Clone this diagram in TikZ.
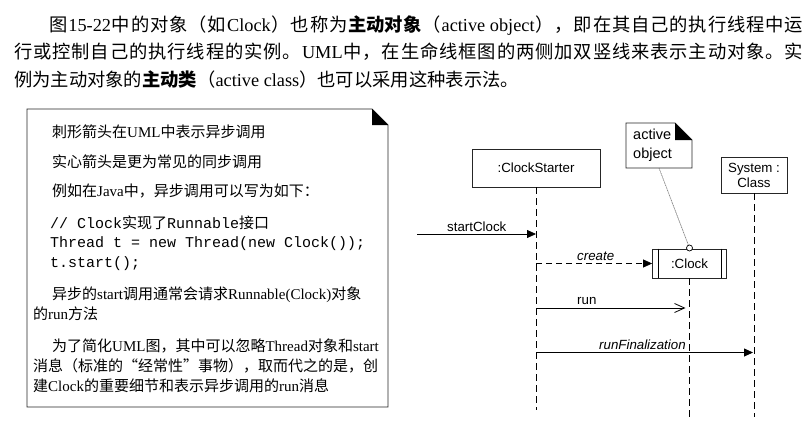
\documentclass[tikz,border=0pt]{standalone}
\usepackage{fontspec}
\usetikzlibrary{arrows.meta}
\setmainfont{Noto Sans CJK SC}
\newfontfamily\en{Liberation Serif}
\newfontfamily\arialf{Liberation Sans}
\newfontfamily\monof{Liberation Mono}

% spread the items of a line evenly over a given width
\makeatletter
\newcommand\spreadline[2]{\makebox[#1][s]{\@tfor\spitem:=#2\do{{\spitem}\hfil}\unskip}}
\makeatother

\tikzset{
  htext/.style={anchor=base west, inner sep=0pt, font=\fontsize{18.3}{20}\selectfont},
  btext/.style={anchor=base west, inner sep=0pt, font=\fontsize{15}{17}\selectfont},
  noteline/.style={draw=black!85, line width=0.8pt, line join=miter},
  objbox/.style={draw=black!85, line width=0.8pt, inner sep=0pt, align=center,
    font=\arialf\fontsize{13.3}{15}\selectfont},
  lifeline/.style={draw=black, line width=0.8pt, dash pattern=on 7pt off 4pt},
  syncmsg/.style={draw=black, line width=0.8pt, -{Triangle[length=9pt,width=8pt]}},
  createmsg/.style={draw=black, line width=0.8pt, dash pattern=on 6pt off 4pt,
    -{Triangle[length=9pt,width=8pt]}},
  asyncmsg/.style={draw=black, line width=0.8pt, -{Straight Barb[length=10pt,width=9pt]}},
  lbl/.style={inner sep=0pt, font=\arialf\fontsize{13.3}{15}\selectfont},
  ilbl/.style={inner sep=0pt, font=\arialf\itshape\fontsize{13.3}{15}\selectfont},
  notetext/.style={anchor=base west, inner sep=0pt, font=\arialf\fontsize{14.5}{16}\selectfont},
}

\begin{document}
\begin{tikzpicture}[x=1pt, y=-1pt]
\useasboundingbox[fill=white] (0,0) rectangle (811,428);

% ---- paragraph above the figure ----
\node[htext] (h1) at (49,31.5) {\spreadline{754pt}{图{\en 15-22}中的对象（如{\en Clock}）也称为{\bfseries 主动对象}（{\en active object}），即在其自己的执行线程中运}};
\node[htext] (h2) at (14,59) {\spreadline{789pt}{行或控制自己的执行线程的实例。{\en UML}中，在生命线框图的两侧加双竖线来表示主动对象。实}};
\node[htext] (h3) at (14,86.5) {例为主动对象的{\bfseries 主动类}（{\en active class}）也可以采用这种表示法。};

% ---- explanatory note on the left ----
\draw[noteline] (27,109) -- (372,109) -- (388,125) -- (388,407) -- (27,407) -- cycle;
\fill[black] (372,109) -- (372,125) -- (388,125) -- cycle;

\node[btext] (n1) at (52,137) {刺形箭头在{\en UML}中表示异步调用};
\node[btext] (n2) at (52,167) {实心箭头是更为常见的同步调用};
\node[btext] (n3) at (52,196) {例如在{\en Java}中，异步调用可以写为如下：};
\node[btext] (c1) at (50,228) {{\monof // Clock}实现了{\monof Runnable}接口};
\node[btext] (c2) at (50,247) {\monof Thread t = new Thread(new Clock());};
\node[btext] (c3) at (50,267) {\monof t.start();};
\node[btext] (n4) at (52,299) {异步的{\en start}调用通常会请求{\en Runnable(Clock)}对象};
\node[btext] (n5) at (33,319) {的{\en run}方法};
\node[btext] (n6) at (52,351) {为了简化{\en UML}图，其中可以忽略{\en Thread}对象和{\en start}};
\node[btext] (n7) at (33,371) {消息（标准的“经常性”事物），取而代之的是，创};
\node[btext] (n8) at (33,391) {建{\en Clock}的重要细节和表示异步调用的{\en run}消息};

% ---- sequence diagram ----
\node[objbox, minimum width=128pt, minimum height=38pt] (cs) at (536,168) {:ClockStarter};
\node[objbox, minimum width=66pt, minimum height=36pt] (sys) at (754,175) {System :\\Class};
\node[objbox, minimum width=74pt, minimum height=29pt] (clk) at (689.5,263.5) {:Clock};
\draw[line width=0.8pt] ([xshift=6pt]clk.north west) -- ([xshift=6pt]clk.south west);
\draw[line width=0.8pt] ([xshift=-6pt]clk.north east) -- ([xshift=-6pt]clk.south east);

% lifelines
\coordinate (cs-end) at (536,410);
\coordinate (clk-end) at (689.5,417);
\coordinate (sys-end) at (754,417);
\draw[lifeline] (cs.south) -- (cs-end);
\draw[lifeline] (clk.south) -- (clk-end);
\draw[lifeline] (sys.south) -- (sys-end);

% "active object" note attached to :Clock
\draw[noteline] (626,123) -- (675,123) -- (692,140) -- (692,168) -- (626,168) -- cycle;
\fill[black] (675,123) -- (675,140) -- (692,140) -- cycle;
\node[notetext] (na) at (633,139) {active};
\node[notetext] (nb) at (633,158) {object};
\coordinate (note-foot) at (659,168);
\node[circle, draw=black, fill=white, line width=0.7pt, inner sep=0pt, minimum size=6pt] (pin) at (689.5,248) {};
\draw[draw=black!55, line width=0.6pt, dash pattern=on 1.2pt off 0.6pt] (note-foot) -- (pin);

% messages
\coordinate (sc-src) at (417,234);
\draw[syncmsg] (sc-src) -- (sc-src -| cs.south);
\node[lbl, anchor=base west] (l-sc) at (447,231) {startClock};

\draw[createmsg] (cs.south |- clk.west) -- (clk.west);
\node[ilbl, anchor=base west] (l-cr) at (577,260.5) {create};

\coordinate (run-y) at (0,308);
\draw[asyncmsg, shorten >=4pt] (cs.south |- run-y) -- (clk.south |- run-y);
\node[lbl, anchor=base west] (l-run) at (577,304) {run};

\coordinate (rf-y) at (0,352.5);
\draw[syncmsg, shorten >=1pt] (cs.south |- rf-y) -- (sys.south |- rf-y);
\node[ilbl, anchor=base west] (l-rf) at (599,349) {runFinalization};

\end{tikzpicture}
\end{document}
